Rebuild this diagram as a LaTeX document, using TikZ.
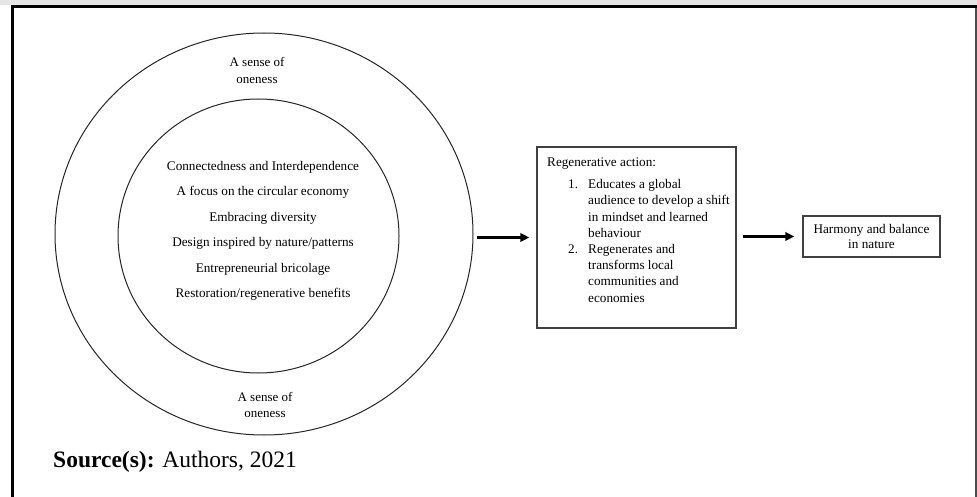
\documentclass[tikz,border=0pt]{standalone}
\usepackage{fontspec}
\setmainfont{Liberation Serif}
\usetikzlibrary{arrows.meta,shapes.geometric}
\begin{document}
\begin{tikzpicture}[x=1pt,y=-1pt,
  ring/.style={draw=black!85, line width=1pt, ellipse, inner sep=0pt},
  txt/.style={font=\fontsize{13.2}{16.2}\selectfont, inner sep=0pt},
  item/.style={txt, anchor=base},
  boxA/.style={draw=black!75, line width=1.4pt, rectangle, inner sep=0pt},
  flow/.style={line width=2.4pt, -{Triangle[length=9pt,width=8.5pt]}},
  frameline/.style={line width=3pt, black},
]
\useasboundingbox (0,0) rectangle (977,497);
\fill[black!10] (0,0) rectangle (977,5);
\draw[frameline] (12.5,497) -- (12.5,6.5) -- (977,6.5);
\draw[line width=1.5pt, black!70] (976,8) -- (976,497);

\node[ring, minimum width=418pt, minimum height=402pt] (outer) at (264,234) {};
\node[ring, minimum width=281pt, minimum height=274pt] (inner) at (258.5,236) {};

\foreach \t [count=\i] in {Connectedness and Interdependence, A focus on the circular economy, Embracing diversity, Design inspired by nature/patterns, Entrepreneurial bricolage, Restoration/regenerative benefits}
  \node[item] (l\i) at (263,{170.5+25.4*(\i-1)}) {\t};

\node[txt, align=center, font=\fontsize{13}{17}\selectfont] (topl) at (257,70) {A sense of\\oneness};
\node[txt, align=center, font=\fontsize{13}{15.5}\selectfont] (botl) at (265,405) {A sense of\\oneness};

\node[boxA, minimum width=199pt, minimum height=181pt] (act) at (636.5,237.5) {};
\node[txt, anchor=north west, align=left] (acttext) at (547,158) {Regenerative action:\\[5.5pt]
\hspace*{21pt}\makebox[20pt][l]{1.}Educates a global\\
\hspace*{41pt}audience to develop a shift\\
\hspace*{41pt}in mindset and learned\\
\hspace*{41pt}behaviour\\
\hspace*{21pt}\makebox[20pt][l]{2.}Regenerates and\\
\hspace*{41pt}transforms local\\
\hspace*{41pt}communities and\\
\hspace*{41pt}economies};

\node[boxA, minimum width=137pt, minimum height=41pt, align=center, font=\fontsize{13.2}{15}\selectfont] (harm) at (871.5,236.5) {Harmony and balance\\in nature};

\draw[flow, shorten <=3pt, shorten >=7pt] (outer.east |- act.west) -- (act.west);
\draw[flow, shorten <=6pt, shorten >=8pt] (act.east |- harm.west) -- (harm.west);

\node[anchor=base west, inner sep=0pt, font=\fontsize{23.5}{28}\selectfont] (src) at (53,467) {\textbf{Source(s):} Authors, 2021};
\end{tikzpicture}
\end{document}
